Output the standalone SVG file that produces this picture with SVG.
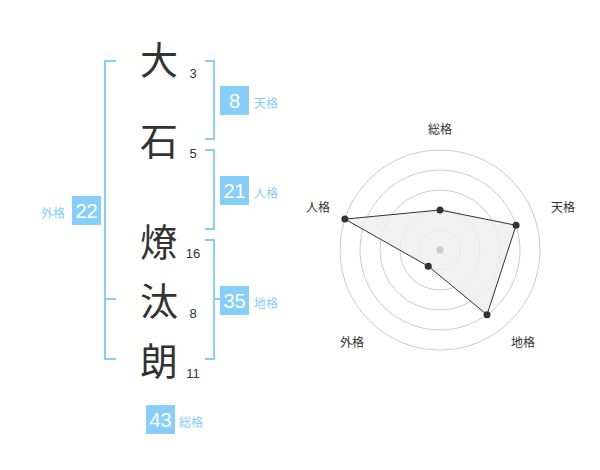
<svg xmlns="http://www.w3.org/2000/svg" width="600" height="470" viewBox="0 0 600 470">
<style>
.kanji{font-family:"Noto Sans CJK JP","Noto Sans CJK SC",sans-serif;font-size:38px;fill:#333;text-anchor:middle}
.num{font-family:"Liberation Sans",Arial,sans-serif;font-size:13px;fill:#333;text-anchor:middle}
.box{fill:#87CEFA}
.bnum{font-family:"Liberation Sans",Arial,sans-serif;font-size:20px;fill:#fff;text-anchor:middle}
.blabel{font-family:"Noto Sans CJK JP","Noto Sans CJK SC",sans-serif;font-size:12px;fill:#87CEFA}
.br{fill:none;stroke:#87CEFA;stroke-width:2}
.ring{fill:none;stroke:#ccc;stroke-width:1}
.rlabel{font-family:"Noto Sans CJK JP","Noto Sans CJK SC",sans-serif;font-size:12px;fill:#333;text-anchor:middle}
.dot{fill:#333}
</style>
<rect width="600" height="470" fill="#fff"/>
<g id="chars">
<text class="kanji" x="159" y="74">大</text>
<text class="kanji" x="159" y="155">石</text>
<text class="kanji" x="159" y="256">燎</text>
<text class="kanji" x="159" y="315">汰</text>
<text class="kanji" x="159" y="375">朗</text>
<text class="num" x="193" y="78">3</text>
<text class="num" x="193" y="158">5</text>
<text class="num" x="193" y="258">16</text>
<text class="num" x="193" y="318">8</text>
<text class="num" x="193" y="378">11</text>
</g>
<g id="connectors">
<path class="br" d="M116,61 H105 V359 H116 M105,299 H116"/>
<path class="br" d="M205,61 H214 V139 H205"/>
<path class="br" d="M205,150 H214 V229 H205"/>
<path class="br" d="M205,240 H214 V359 H205 M214,299 H223"/>
</g>
<g id="tenkaku">
<rect class="box" x="220" y="86" width="29" height="29"/>
<text class="bnum" x="234.5" y="108">8</text>
<text class="blabel" x="254" y="108">天格</text>
</g>
<g id="jinkaku">
<rect class="box" x="220" y="176" width="29" height="29"/>
<text class="bnum" x="234.5" y="198">21</text>
<text class="blabel" x="254" y="198">人格</text>
</g>
<g id="chikaku">
<rect class="box" x="220" y="286" width="29" height="29"/>
<text class="bnum" x="234.5" y="308">35</text>
<text class="blabel" x="254" y="308">地格</text>
</g>
<g id="gaikaku">
<rect class="box" x="72" y="196" width="29" height="29"/>
<text class="bnum" x="86.5" y="218">22</text>
<text class="blabel" x="41" y="218">外格</text>
</g>
<g id="soukaku">
<rect class="box" x="146" y="405" width="29" height="29"/>
<text class="bnum" x="160.5" y="427">43</text>
<text class="blabel" x="179" y="427">総格</text>
</g>
<g id="radar">
<circle class="ring" cx="440" cy="250" r="20"/>
<circle class="ring" cx="440" cy="250" r="40"/>
<circle class="ring" cx="440" cy="250" r="60"/>
<circle class="ring" cx="440" cy="250" r="80"/>
<circle class="ring" cx="440" cy="250" r="100"/>
<polygon points="440,210 516.08,225.28 487.02,314.72 428.24,266.18 344.89,219.10" fill="#eee" fill-opacity="0.8" stroke="#333" stroke-width="1"/>
<circle cx="440" cy="250" r="3.5" fill="#ccc"/>
<circle class="dot" cx="440" cy="210" r="3.5"/>
<circle class="dot" cx="516.08" cy="225.28" r="3.5"/>
<circle class="dot" cx="487.02" cy="314.72" r="3.5"/>
<circle class="dot" cx="428.24" cy="266.18" r="3.5"/>
<circle class="dot" cx="344.89" cy="219.10" r="3.5"/>
<text class="rlabel" x="440" y="134">総格</text>
<text class="rlabel" x="563" y="212">天格</text>
<text class="rlabel" x="318" y="212">人格</text>
<text class="rlabel" x="352" y="347">外格</text>
<text class="rlabel" x="523" y="347">地格</text>
</g>
</svg>
